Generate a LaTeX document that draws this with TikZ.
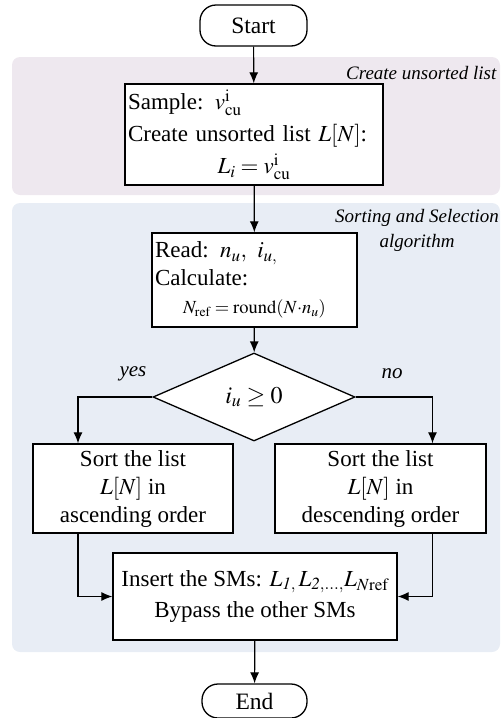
\documentclass[tikz,border=0pt]{standalone}
\usepackage{amsmath}
\usepackage{mathptmx}
\usepackage{fontspec}
\setmainfont{Liberation Serif}
\usetikzlibrary{shapes.geometric,arrows.meta}

\definecolor{pinkreg}{HTML}{EEE8EF}
\definecolor{bluereg}{HTML}{E8EDF5}

\begin{document}
\begin{tikzpicture}[x=1pt, y=-1pt, ->, >={Latex[length=11pt,width=9pt]}, line width=1.2pt]
                \tikzstyle{process}=[rectangle, draw, fill=white, line width=1.3pt, font=\fontsize{23}{28}\selectfont, inner sep=3pt]
                \tikzstyle{terminal}=[rectangle, rounded corners=16pt, draw, fill=white, line width=1.3pt, font=\fontsize{23.5}{28}\selectfont]
                \tikzstyle{decision}=[diamond, draw, fill=white, line width=1.3pt, aspect=2.3, inner sep=0pt, font=\fontsize{24}{28}\selectfont]
                \tikzstyle{region label}=[font=\fontsize{19}{25}\selectfont\itshape]
                \useasboundingbox (0,0) rectangle (501,718);

                % background regions
                \fill[pinkreg, rounded corners=8pt] (12,57) rectangle (500,195);
                \fill[bluereg, rounded corners=8pt] (12,203) rectangle (500,652);
                \node[region label, anchor=east, inner sep=0pt]    (lblA) at (497,73)   {Create unsorted list};
                \node[region label, align=center]   (lblB) at (417,230)  {Sorting and Selection\\algorithm};

                \node[terminal, minimum width=107pt, minimum height=41pt]    (start) at (253.5,25.5)  {Start};
                \node[process, minimum width=258pt, minimum height=101pt, text width=252pt, align=left, inner sep=2pt, font=\fontsize{23}{32}\selectfont]    (sample) at (254,134.5)
                    {Sample: $v^{\mathrm{i}}_{\mathrm{cu}}$\\Create unsorted list $L[N]$:\\\hspace*{\fill}$L_i = v^{\mathrm{i}}_{\mathrm{cu}}$\hspace*{\fill}\null};
                \node[process, minimum width=205pt, minimum height=94pt, text width=199pt, align=left, inner sep=2pt]    (read) at (254.5,280)
                    {Read: $n_u,\ i_{u,}$\\Calculate:\\\hspace*{\fill}{\fontsize{18.5}{22}\selectfont$N_{\mathrm{ref}} = \mathrm{round}(N{\cdot}n_u)$}\hspace*{\fill}\null};
                \node[decision, minimum width=202pt, minimum height=88pt]    (check) at (254,397)   {$i_u \geq 0$};
                \node[process, minimum width=200pt, minimum height=89pt, align=center]    (sortA) at (133,488.5)
                    {Sort the list\\$L[N]$ in\\ascending order};
                \node[process, minimum width=211pt, minimum height=89pt, align=center]    (sortB) at (380.5,488.5)
                    {Sort the list\\$L[N]$ in\\descending order};
                \node[process, minimum width=284pt, minimum height=87pt, align=center, font=\fontsize{23}{31}\selectfont]    (insert) at (255,596.5)
                    {Insert the SMs: $L_{\mathit{1},}\,L_{\mathit{2},\ldots,}L_{N\mathrm{ref}}$\\Bypass the other SMs};
                \node[terminal, minimum width=105pt, minimum height=34pt]    (end) at (254.5,701)   {End};

                \node[region label, font=\fontsize{21}{24}\selectfont\itshape]    (yes) at (133,374)   {yes};
                \node[region label, font=\fontsize{21}{24}\selectfont\itshape]    (no)  at (392,374)   {no};

                \draw (start) -- (sample);
                \draw (sample) -- (read);
                \draw (read) -- (check);
                \draw (check.west) -| ([xshift=-55pt]sortA.north);
                \draw (check.east) -| ([xshift=52pt]sortB.north);
                \draw ([xshift=-55pt]sortA.south) |- (insert.west);
                \draw ([xshift=52pt]sortB.south) |- (insert.east);
                \draw (insert) -- (end);
            \end{tikzpicture}
\end{document}
